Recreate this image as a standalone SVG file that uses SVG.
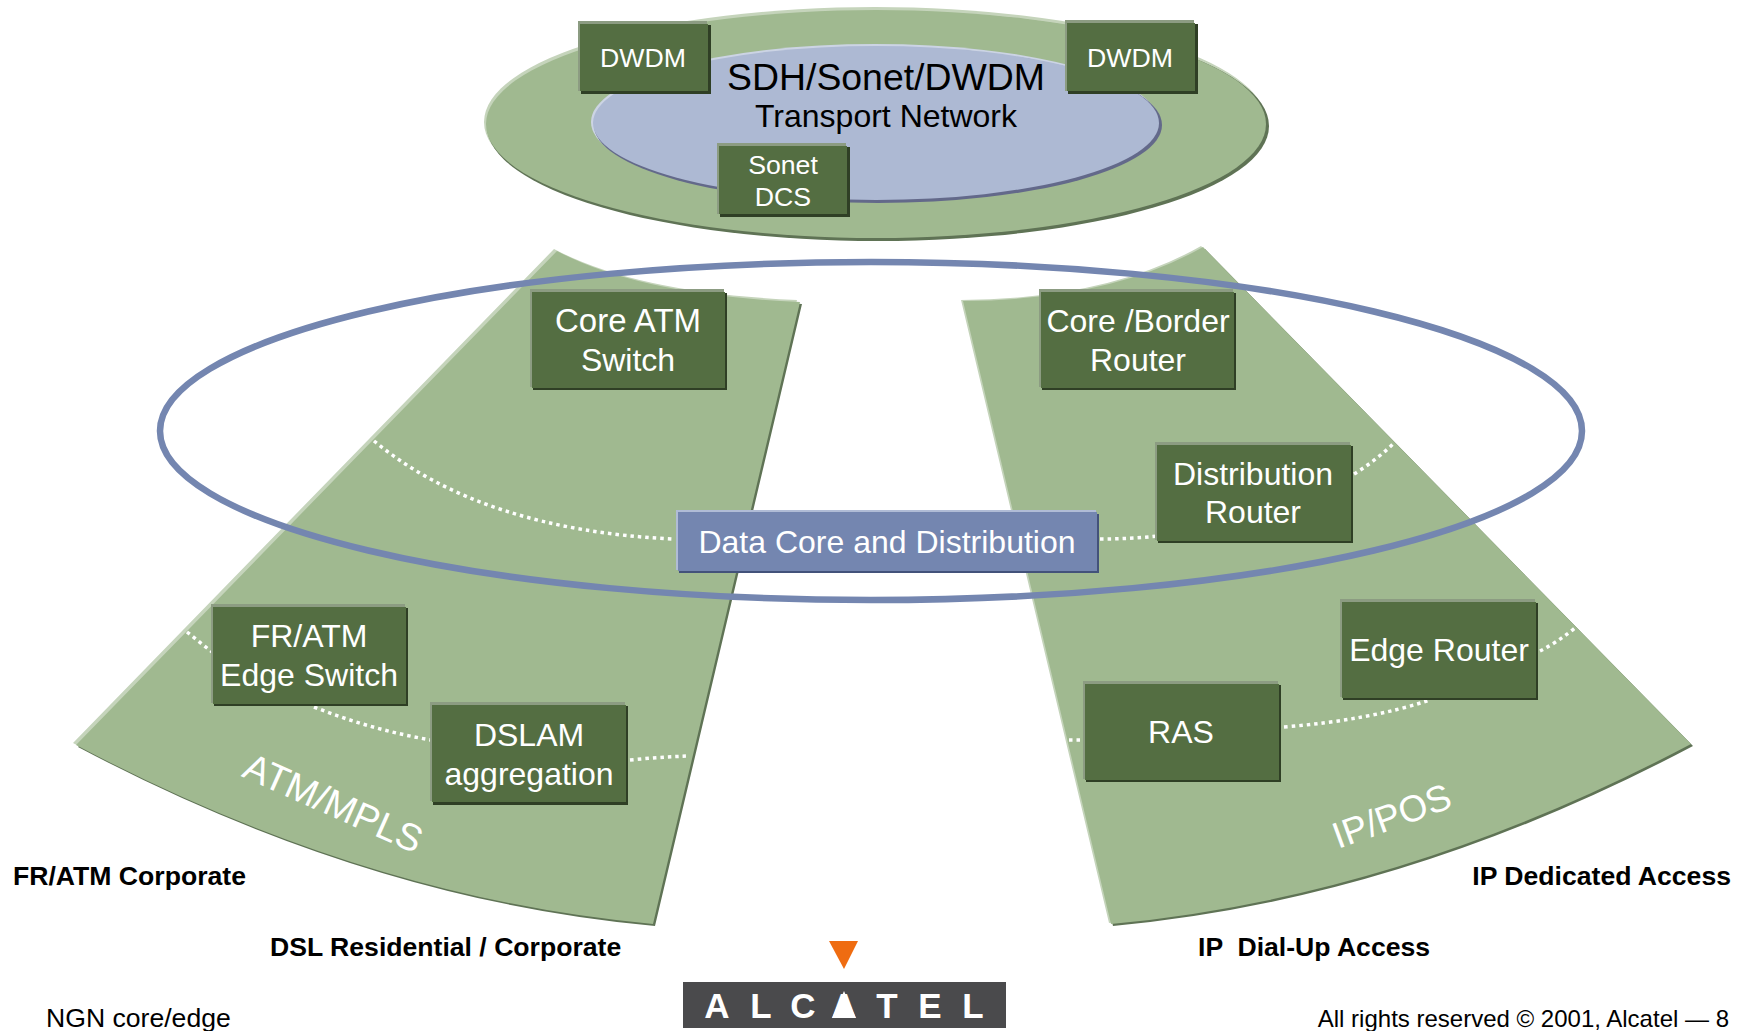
<svg xmlns="http://www.w3.org/2000/svg" width="1748" height="1031" viewBox="0 0 1748 1031">
<style>
text{font-family:"Liberation Sans",Arial,sans-serif}
.g{fill:#a0b990}.hl{fill:#c5d4bb}.sh{fill:#5f7355}
.bb{fill:#546e42}.bl{fill:#8c9c82}.bd{fill:#2f3f25}
.lb{fill:#fff;font-size:32px;text-anchor:middle}
.sm{fill:#fff;font-size:26.7px;text-anchor:middle}
.cap{fill:#000;font-size:26.6px;font-weight:bold}
.ft{fill:#000;font-size:24px}
.dot{fill:none;stroke:#fff;stroke-width:3.5;stroke-dasharray:3.5 4}
.lg{fill:#fff;font-size:35px;font-weight:bold;text-anchor:middle}
</style>
<defs>
<path id="sl" d="M557,251 Q640,295 800,302 L653,924 Q365,898 76,745 Z"/>
<path id="sr" d="M963,301 Q1110,300 1203,247 L1691,744 Q1402,897 1111,924 Z"/>
</defs>
<g id="transport-network">
<ellipse class="hl" cx="875" cy="122" rx="391" ry="115"/>
<ellipse class="sh" cx="878" cy="126" rx="391" ry="115"/>
<ellipse class="g" cx="876" cy="124" rx="390" ry="114"/>
<ellipse fill="#ccd4e4" cx="875" cy="122" rx="284" ry="78"/>
<ellipse fill="#63698a" cx="878" cy="125" rx="284" ry="78"/>
<ellipse fill="#adb9d3" cx="876" cy="123" rx="283" ry="77"/>
<text x="886" y="90" font-size="37.4" text-anchor="middle" fill="#000">SDH/Sonet/DWDM</text>
<text x="886" y="127" font-size="32" text-anchor="middle" fill="#000">Transport Network</text>
</g>
<g id="atm-mpls-sector">
<use href="#sl" class="hl" transform="translate(-3,-2)"/>
<use href="#sl" class="sh" transform="translate(2,2)"/>
<use href="#sl" class="g"/>
<text class="lb" transform="translate(328,815) rotate(24)" style="font-size:38px">ATM/MPLS</text>
</g>
<g id="ip-pos-sector">
<use href="#sr" class="hl" transform="translate(-2,-1)"/>
<use href="#sr" class="sh" transform="translate(2,2)"/>
<use href="#sr" class="g"/>
<text class="lb" transform="translate(1396,828) rotate(-20)" style="font-size:37px">IP/POS</text>
</g>
<g id="connectors">
<path class="dot" d="M374,441 Q482,530 673,539"/>
<path class="dot" d="M1100,539 Q1130,539 1158,536"/>
<path class="dot" d="M1354,474 Q1377,460 1396,441"/>
<path class="dot" d="M187,632 L212,652"/>
<path class="dot" d="M314,707 Q372,730 431,740"/>
<path class="dot" d="M630,760 Q660,757 688,756"/>
<path class="dot" d="M1069,740 L1084,740"/>
<path class="dot" d="M1284,727 Q1370,720 1430,700"/>
<path class="dot" d="M1540,651 Q1558,642 1576,627"/>
</g>
<g id="data-core-ring">
<ellipse cx="871" cy="431" rx="711" ry="169" fill="none" stroke="#7486b0" stroke-width="6.5"/>
</g>
<g id="dwdm-left">
<rect class="bl" x="578" y="21" width="129" height="70"/><rect class="bd" x="581" y="25" width="130" height="69"/><rect class="bb" x="580" y="24" width="128" height="67"/>
<text class="sm" x="643" y="67">DWDM</text>
</g>
<g id="dwdm-right">
<rect class="bl" x="1065" y="20" width="129" height="71"/><rect class="bd" x="1068" y="24" width="130" height="70"/><rect class="bb" x="1067" y="23" width="128" height="68"/>
<text class="sm" x="1130" y="67">DWDM</text>
</g>
<g id="sonet-dcs">
<rect class="bl" x="717" y="143" width="129" height="71"/><rect class="bd" x="720" y="147" width="130" height="70"/><rect class="bb" x="719" y="146" width="128" height="68"/>
<text class="sm" x="783" y="174">Sonet</text><text class="sm" x="783" y="206">DCS</text>
</g>
<g id="core-atm-switch">
<rect class="bl" x="530" y="289" width="194" height="98"/><rect class="bd" x="533" y="293" width="194" height="97"/><rect class="bb" x="532" y="292" width="193" height="96"/>
<text class="lb" x="628" y="332" style="font-size:33px">Core ATM</text><text class="lb" x="628" y="371">Switch</text>
</g>
<g id="core-border-router">
<rect class="bl" x="1039" y="289" width="194" height="98"/><rect class="bd" x="1042" y="293" width="194" height="97"/><rect class="bb" x="1041" y="292" width="193" height="96"/>
<text class="lb" x="1138" y="332">Core /Border</text><text class="lb" x="1138" y="371">Router</text>
</g>
<g id="distribution-router">
<rect class="bl" x="1155" y="442" width="195" height="98"/><rect class="bd" x="1158" y="446" width="195" height="97"/><rect class="bb" x="1157" y="445" width="194" height="96"/>
<text class="lb" x="1253" y="485">Distribution</text><text class="lb" x="1253" y="523">Router</text>
</g>
<g id="data-core-distribution">
<rect fill="#b0bcd6" x="676" y="510" width="420" height="60"/><rect fill="#43527a" x="679" y="514" width="420" height="59"/><rect fill="#7486b0" x="678" y="512" width="419" height="59"/>
<text class="lb" x="887" y="553">Data Core and Distribution</text>
</g>
<g id="fr-atm-edge-switch">
<rect class="bl" x="211" y="604" width="194" height="99"/><rect class="bd" x="214" y="608" width="194" height="98"/><rect class="bb" x="213" y="607" width="193" height="97"/>
<text class="lb" x="309" y="647">FR/ATM</text><text class="lb" x="309" y="686">Edge Switch</text>
</g>
<g id="dslam-aggregation">
<rect class="bl" x="430" y="702" width="195" height="99"/><rect class="bd" x="433" y="706" width="195" height="99"/><rect class="bb" x="432" y="705" width="194" height="97"/>
<text class="lb" x="529" y="746">DSLAM</text><text class="lb" x="529" y="785">aggregation</text>
</g>
<g id="edge-router">
<rect class="bl" x="1340" y="599" width="195" height="98"/><rect class="bd" x="1343" y="603" width="195" height="97"/><rect class="bb" x="1342" y="602" width="194" height="96"/>
<text class="lb" x="1439" y="661">Edge Router</text>
</g>
<g id="ras">
<rect class="bl" x="1083" y="681" width="195" height="98"/><rect class="bd" x="1086" y="685" width="195" height="97"/><rect class="bb" x="1085" y="684" width="194" height="96"/>
<text class="lb" x="1181" y="743">RAS</text>
</g>
<g id="captions">
<text class="cap" x="13" y="885">FR/ATM Corporate</text>
<text class="cap" x="270" y="956">DSL Residential / Corporate</text>
<text class="cap" x="1731" y="885" text-anchor="end">IP Dedicated Access</text>
<text class="cap" x="1198" y="956" xml:space="preserve">IP  Dial-Up Access</text>
<text class="ft" x="46" y="1027" style="font-size:26.6px">NGN core/edge</text>
<text class="ft" x="1729" y="1027" text-anchor="end">All rights reserved © 2001, Alcatel — 8</text>
</g>
<g id="alcatel-logo">
<polygon points="829,941 858,941 844,969" fill="#ef6c11"/>
<rect x="683" y="982" width="323" height="46" fill="#4a4a4c"/>
<text class="lg" y="1018"><tspan x="717">A</tspan><tspan x="761">L</tspan><tspan x="803">C</tspan><tspan x="844">A</tspan><tspan x="887">T</tspan><tspan x="930">E</tspan><tspan x="973">L</tspan></text>
<polygon points="844,991 832,1018 856,1018" fill="#fff"/>
</g>
</svg>
